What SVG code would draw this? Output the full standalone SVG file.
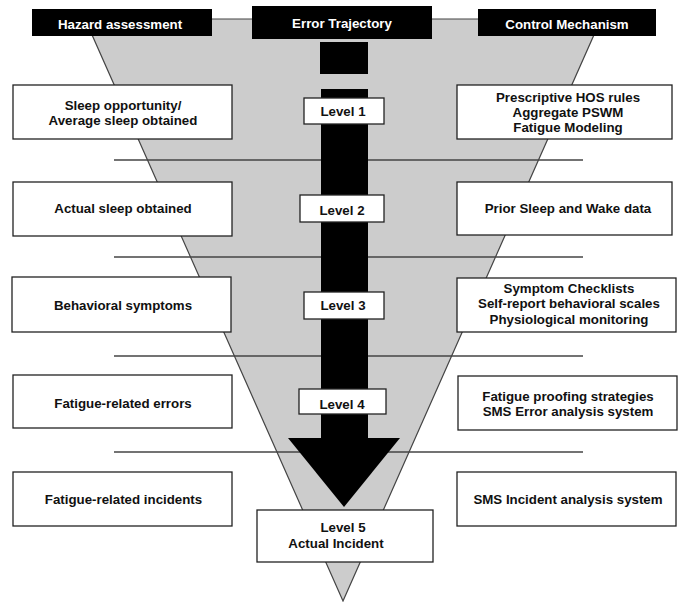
<svg xmlns="http://www.w3.org/2000/svg" width="678" height="602" viewBox="0 0 678 602">
  <style>
    .hdr { fill: #000; }
    .hdrt { fill: #fff; font-family: "Liberation Sans", Arial, sans-serif; font-weight: bold; font-size: 13.3px; text-anchor: middle; }
    .box { fill: #fff; stroke: #222; stroke-width: 1.3; }
    .t { fill: #111; font-family: "Liberation Sans", Arial, sans-serif; font-weight: bold; font-size: 13.3px; text-anchor: middle; }
    .sep { stroke: #444; stroke-width: 1.5; }
  </style>
  <rect x="0" y="0" width="678" height="602" fill="#fff"/>
  <g id="funnel">
    <polygon points="85,19 601,19 343,601" fill="#cccccc" stroke="#444" stroke-width="1.2"/>
  </g>
  <g id="separators">
    <line class="sep" x1="114" y1="160" x2="583" y2="160"/>
    <line class="sep" x1="114" y1="257" x2="583" y2="257"/>
    <line class="sep" x1="114" y1="356" x2="583" y2="356"/>
    <line class="sep" x1="114" y1="452" x2="583" y2="452"/>
  </g>
  <g id="header-hazard">
    <rect class="hdr" x="32" y="9" width="180" height="27"/>
    <text class="hdrt" x="120" y="28.5">Hazard assessment</text>
  </g>
  <g id="header-error">
    <rect class="hdr" x="252" y="6" width="180" height="33"/>
    <text class="hdrt" x="342" y="27.5">Error Trajectory</text>
  </g>
  <g id="header-control">
    <rect class="hdr" x="478" y="9" width="178" height="27"/>
    <text class="hdrt" x="567" y="28.5">Control Mechanism</text>
  </g>
  <g id="hazard-1">
    <rect class="box" x="13" y="85" width="219" height="54"/>
    <text class="t" x="123" y="109.5">Sleep opportunity/</text>
    <text class="t" x="123" y="124.5">Average sleep obtained</text>
  </g>
  <g id="hazard-2">
    <rect class="box" x="13" y="182" width="219" height="54"/>
    <text class="t" x="123" y="212.5">Actual sleep obtained</text>
  </g>
  <g id="hazard-3">
    <rect class="box" x="12" y="277" width="219" height="55"/>
    <text class="t" x="123" y="309.5">Behavioral symptoms</text>
  </g>
  <g id="hazard-4">
    <rect class="box" x="13" y="375" width="219" height="53"/>
    <text class="t" x="123" y="407.5">Fatigue-related errors</text>
  </g>
  <g id="hazard-5">
    <rect class="box" x="13" y="472" width="219" height="54"/>
    <text class="t" x="123.5" y="503.5">Fatigue-related incidents</text>
  </g>
  <g id="control-1">
    <rect class="box" x="457" y="85" width="215" height="54"/>
    <text class="t" x="568" y="101.5">Prescriptive HOS rules</text>
    <text class="t" x="568" y="116.5">Aggregate PSWM</text>
    <text class="t" x="568" y="131.5">Fatigue Modeling</text>
  </g>
  <g id="control-2">
    <rect class="box" x="457" y="182" width="215" height="53"/>
    <text class="t" x="568" y="212.5">Prior Sleep and Wake data</text>
  </g>
  <g id="control-3">
    <rect class="box" x="457" y="278" width="219" height="54"/>
    <text class="t" x="569" y="292.5">Symptom Checklists</text>
    <text class="t" x="569" y="308">Self-report behavioral scales</text>
    <text class="t" x="569" y="323.5">Physiological monitoring</text>
  </g>
  <g id="control-4">
    <rect class="box" x="458" y="376" width="219" height="54"/>
    <text class="t" x="568" y="400.5">Fatigue proofing strategies</text>
    <text class="t" x="568" y="415.5">SMS Error analysis system</text>
  </g>
  <g id="control-5">
    <rect class="box" x="457" y="472" width="219" height="54"/>
    <text class="t" x="568" y="503.5">SMS Incident analysis system</text>
  </g>
  <g id="connectors">
    <rect x="320" y="42" width="48" height="32" fill="#000"/>
    <rect x="321" y="89" width="47" height="350" fill="#000"/>
    <polygon points="288,438 400,438 344,507" fill="#000"/>
  </g>
  <g id="level-1">
    <rect class="box" x="304" y="98" width="80" height="26"/>
    <text class="t" x="343" y="115.5">Level 1</text>
  </g>
  <g id="level-2">
    <rect class="box" x="300" y="195" width="84" height="27"/>
    <text class="t" x="342" y="214.5">Level 2</text>
  </g>
  <g id="level-3">
    <rect class="box" x="304" y="292" width="80" height="27"/>
    <text class="t" x="343" y="310">Level 3</text>
  </g>
  <g id="level-4">
    <rect class="box" x="299" y="389" width="87" height="25"/>
    <text class="t" x="342" y="408.5">Level 4</text>
  </g>
  <g id="level-5">
    <rect class="box" x="257" y="510" width="176" height="52"/>
    <text class="t" x="343" y="531.5">Level 5</text>
    <text class="t" x="336" y="548">Actual Incident</text>
  </g>
</svg>
